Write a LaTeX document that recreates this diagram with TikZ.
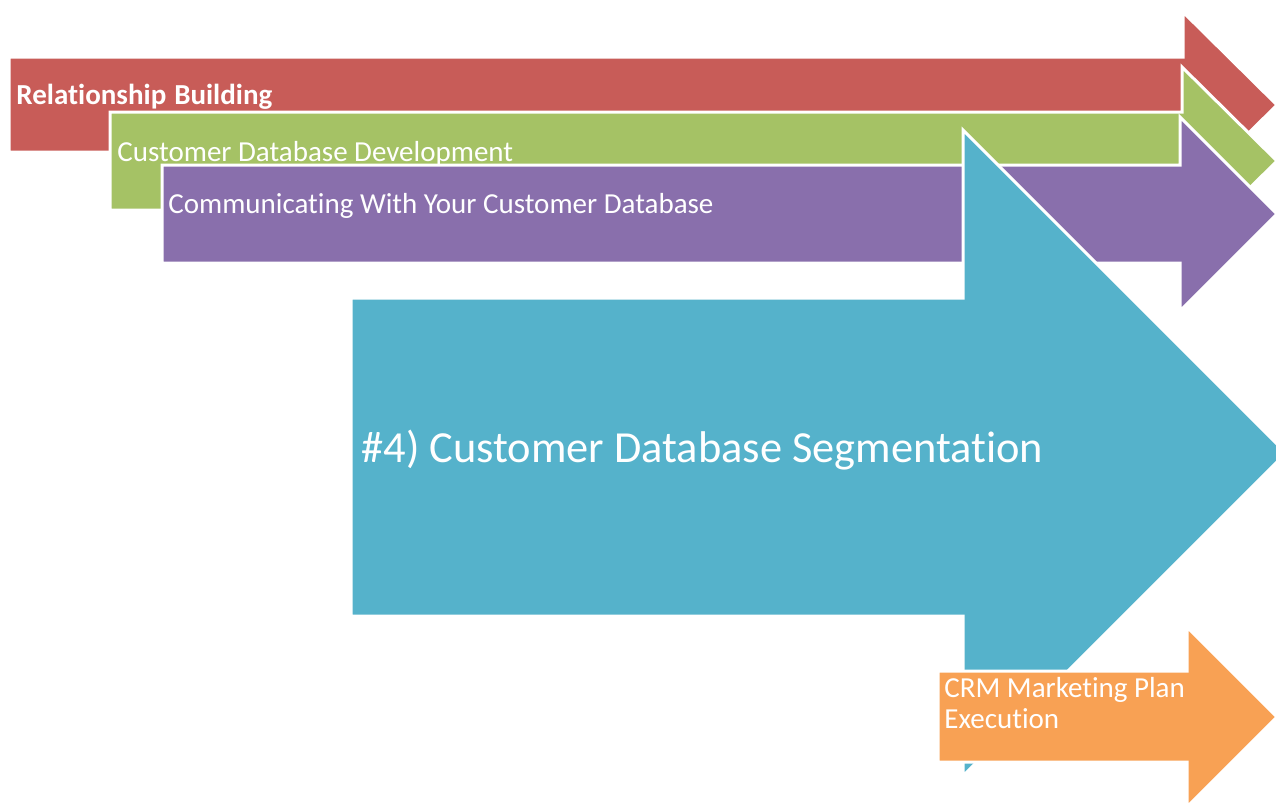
\documentclass[tikz,border=0pt]{standalone}
\usepackage{fontspec}
\setmainfont{Carlito}[Ligatures=NoCommon]
\definecolor{relred}{RGB}{200,92,88}
\definecolor{devgreen}{RGB}{165,194,101}
\definecolor{compurple}{RGB}{137,111,172}
\definecolor{segblue}{RGB}{85,178,203}
\definecolor{planorange}{RGB}{248,161,84}

\begin{document}
\begin{tikzpicture}
    [
    x=0.5pt, y=-0.5pt,
    band/.style={draw=white, line width=1.5pt, line join=miter},
    txt/.style={text=white, anchor=west, inner sep=0pt, font=\fontsize{14.5}{15.5}\selectfont},
    ]
    \useasboundingbox (0,0) rectangle (1276,804);
    \clip (0,0) rectangle (1276,804);

    \filldraw [band, fill=relred] (9,57) -- (1183,57) -- (1183,12) -- (1277,105) -- (1183,198) -- (1183,152) -- (9,152) -- cycle;
    \filldraw [band, fill=devgreen] (110,112) -- (1182,112) -- (1182,67) -- (1277,161) -- (1182,255) -- (1182,210) -- (110,210) -- cycle;
    \filldraw [band, fill=compurple] (162,165) -- (1180,165) -- (1180,117) -- (1277,214) -- (1180,311) -- (1180,263) -- (162,263) -- cycle;
    \filldraw [band, fill=segblue] (351,298) -- (963,298) -- (963,130) -- (1286,453) -- (963,776) -- (963,616) -- (351,616) -- cycle;
    \filldraw [band, fill=planorange] (938,671) -- (1187,671) -- (1187,627) -- (1277,717) -- (1187,807) -- (1187,762) -- (938,762) -- cycle;

    \node (rel) at (16,97) [txt, font=\fontsize{14.5}{16}\selectfont\bfseries] {Relationship\hspace{4pt}Building};
    \node (dev) at (117,154) [txt] {Customer Database Development};
    \node (com) at (168,206) [txt] {Communicating With Your Customer Database};
    \node (seg) at (361,450) [txt, font=\fontsize{22.2}{26}\selectfont] {\#4) Customer Database Segmentation};
    \node (plan) at (944,677) [txt, anchor=north west, align=left] {CRM Marketing Plan\\Execution};
  \end{tikzpicture}
\end{document}
